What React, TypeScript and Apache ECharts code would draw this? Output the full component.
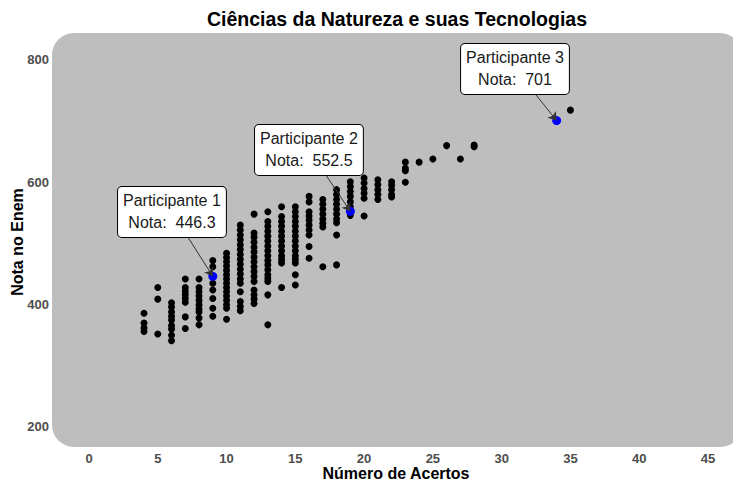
import React, { useEffect, useRef } from "react";
import * as echarts from "echarts";

const title = "Ciências da Natureza e suas Tecnologias";
const xTitle = "Número de Acertos";
const yTitle = "Nota no Enem";
const xTicks = [0, 5, 10, 15, 20, 25, 30, 35, 40, 45];
const yTicks = [200, 400, 600, 800];

const acertosCols = [4, 5, 6, 7, 8, 9, 10, 11, 12, 13, 14, 15, 16, 17, 18, 19, 20, 21, 22, 23, 24, 25, 26, 27, 28, 35];
const notasCols = [
  [386, 370, 362, 356],
  [428, 409, 352],
  [403, 396, 388, 381, 375, 366, 360, 350, 341],
  [442, 428, 422, 416, 410, 404, 380, 361],
  [442, 428, 421, 414, 407, 400, 393, 388, 378, 367],
  [472, 462, 446, 435, 424, 410, 394, 381],
  [484, 477, 470, 463, 456, 449, 442, 435, 428, 421, 414, 407, 400, 394, 376],
  [530, 522, 514, 506, 498, 490, 482, 474, 466, 458, 450, 442, 435, 421, 405, 397, 390],
  [548, 517, 510, 502, 494, 486, 478, 470, 462, 454, 446, 438, 424, 416, 409, 402],
  [552, 536, 528, 520, 512, 504, 496, 488, 480, 472, 465, 457, 449, 443, 438, 416, 367],
  [560, 544, 536, 528, 520, 512, 504, 496, 488, 480, 474, 468, 428],
  [560, 552, 544, 536, 528, 520, 512, 504, 496, 488, 480, 474, 468, 449, 432],
  [577, 568, 552, 545, 538, 530, 522, 514, 495, 476],
  [572, 564, 556, 548, 540, 533, 527, 462],
  [588, 580, 572, 564, 556, 548, 540, 534, 514, 465],
  [601, 593, 585, 577, 568, 560, 546],
  [607, 599, 590, 582, 574, 545],
  [604, 596, 588, 580, 572],
  [601, 595, 588, 580, 576],
  [633, 623, 619, 600],
  [633],
  [638],
  [660],
  [638],
  [661, 658],
  [718],
];

const partNames = ["Participante 1", "Participante 2", "Participante 3"];
const partX = [9, 19, 34];
const partY = [446.3, 552.5, 701];
const labelX = [6.03, 15.99, 30.97];
const labelY = [551.5, 652.9, 785.3];

const FONT = "'Liberation Sans', Arial, sans-serif";

export default function App() {
  const ref = useRef<HTMLDivElement>(null);
  useEffect(() => {
    if (!ref.current) return;
    const chart = echarts.init(ref.current, null, { renderer: "svg" });
    const points: number[][] = [];
    acertosCols.forEach((x, i) => notasCols[i].forEach((y) => points.push([x, y])));
    const parts = partX.map((x, i) => [x, partY[i]]);
    chart.setOption({
      animation: false,
      backgroundColor: "#ffffff",
      grid: { left: 52, top: 33, width: 681, height: 414, containLabel: false },
      graphic: [
        {
          type: "rect",
          z: -10,
          silent: true,
          shape: { x: 52, y: 33, width: 690, height: 414, r: 22 },
          style: { fill: "#bebebe" },
        },
        {
          type: "text",
          x: 397,
          y: 19,
          style: {
            text: title,
            fill: "#000",
            font: `bold 19.5px ${FONT}`,
            align: "center",
            verticalAlign: "middle",
          },
        },
        {
          type: "text",
          x: 396,
          y: 473,
          style: {
            text: xTitle,
            fill: "#000",
            font: `bold 16px ${FONT}`,
            align: "center",
            verticalAlign: "middle",
          },
        },
        {
          type: "text",
          x: 17,
          y: 242,
          rotation: Math.PI / 2,
          style: {
            text: yTitle,
            fill: "#000",
            font: `bold 16px ${FONT}`,
            align: "center",
            verticalAlign: "middle",
          },
        },
      ],
      xAxis: {
        type: "value",
        min: -2.69,
        max: 46.82,
        axisLine: { show: false },
        axisTick: { show: false },
        splitLine: { show: false },
        axisLabel: {
          customValues: xTicks,
          margin: 5,
          color: "#4d4d4d",
          fontWeight: "bold",
          fontSize: 13,
          fontFamily: FONT,
        },
      },
      yAxis: {
        type: "value",
        min: 167.3,
        max: 844.1,
        axisLine: { show: false },
        axisTick: { show: false },
        splitLine: { show: false },
        axisLabel: {
          customValues: yTicks,
          margin: 3,
          color: "#4d4d4d",
          fontWeight: "bold",
          fontSize: 13,
          fontFamily: FONT,
        },
      },
      series: [
        {
          type: "scatter",
          data: points,
          symbolSize: 7,
          itemStyle: { color: "#000000", opacity: 1 },
          z: 2,
        },
        {
          type: "scatter",
          data: parts,
          symbolSize: 9,
          itemStyle: { color: "#0000ff", opacity: 1 },
          z: 3,
          markLine: {
            silent: true,
            symbol: ["none", "arrow"],
            symbolSize: 8,
            label: { show: false },
            lineStyle: { color: "#333333", width: 1, type: "solid", opacity: 1 },
            data: partX.map((x, i) => [
              { coord: [labelX[i], labelY[i]] },
              { coord: [x, partY[i]] },
            ]),
          },
          markPoint: {
            silent: true,
            symbol: "rect",
            symbolSize: 0,
            data: partX.map((x, i) => ({
              coord: [labelX[i], labelY[i]],
              label: {
                show: true,
                position: "inside",
                formatter: `${partNames[i]}\nNota:  ${partY[i]}`,
                backgroundColor: "#ffffff",
                borderColor: "#000000",
                borderWidth: 1,
                borderRadius: 4,
                padding: [3, 5],
                color: "#1a1a1a",
                fontSize: 16,
                lineHeight: 22,
                fontFamily: FONT,
                align: "center",
              },
            })),
          },
        },
      ],
    });
    return () => chart.dispose();
  }, []);
  return <div ref={ref} style={{ width: 733, height: 481, position: "absolute", left: 0, top: 0 }} />;
}
